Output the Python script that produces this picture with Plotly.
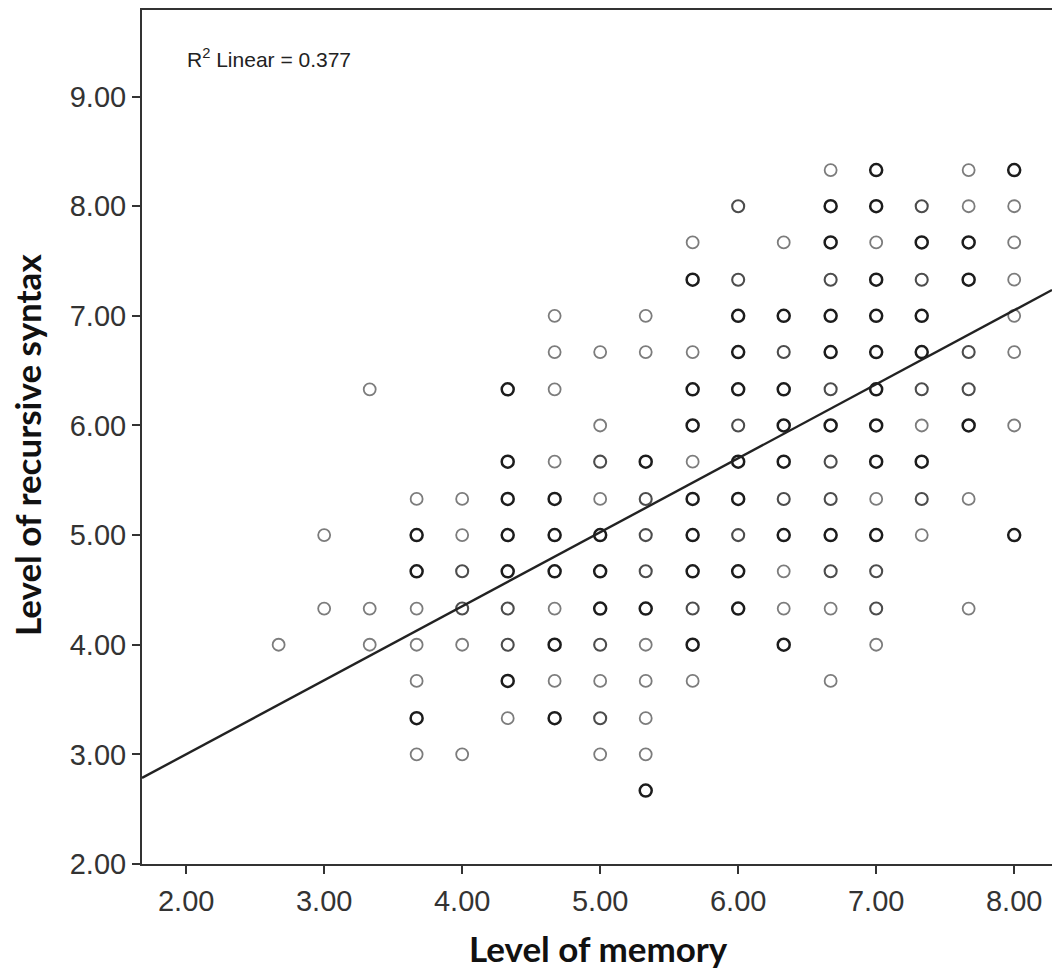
import plotly.graph_objects as go

# Each entry is one plotted position; `cases` is how many respondents share it
memory = [
    2.67,
    3.00, 3.00,
    3.33, 3.33, 3.33,
    3.67, 3.67, 3.67, 3.67, 3.67, 3.67, 3.67, 3.67,
    4.00, 4.00, 4.00, 4.00, 4.00, 4.00,
    4.33, 4.33, 4.33, 4.33, 4.33, 4.33, 4.33, 4.33, 4.33,
    4.67, 4.67, 4.67, 4.67, 4.67, 4.67, 4.67, 4.67, 4.67, 4.67, 4.67,
    5.00, 5.00, 5.00, 5.00, 5.00, 5.00, 5.00, 5.00, 5.00, 5.00, 5.00,
    5.33, 5.33, 5.33, 5.33, 5.33, 5.33, 5.33, 5.33, 5.33, 5.33, 5.33, 5.33,
    5.67, 5.67, 5.67, 5.67, 5.67, 5.67, 5.67, 5.67, 5.67, 5.67, 5.67, 5.67,
    6.00, 6.00, 6.00, 6.00, 6.00, 6.00, 6.00, 6.00, 6.00, 6.00, 6.00,
    6.33, 6.33, 6.33, 6.33, 6.33, 6.33, 6.33, 6.33, 6.33, 6.33, 6.33,
    6.67, 6.67, 6.67, 6.67, 6.67, 6.67, 6.67, 6.67, 6.67, 6.67, 6.67, 6.67, 6.67, 6.67,
    7.00, 7.00, 7.00, 7.00, 7.00, 7.00, 7.00, 7.00, 7.00, 7.00, 7.00, 7.00, 7.00, 7.00,
    7.33, 7.33, 7.33, 7.33, 7.33, 7.33, 7.33, 7.33, 7.33, 7.33,
    7.67, 7.67, 7.67, 7.67, 7.67, 7.67, 7.67, 7.67, 7.67,
    8.00, 8.00, 8.00, 8.00, 8.00, 8.00, 8.00, 8.00,
]
syntax = [
    4.00,
    5.00, 4.33,
    6.33, 4.33, 4.00,
    5.33, 5.00, 4.67, 4.33, 4.00, 3.67, 3.33, 3.00,
    5.33, 5.00, 4.67, 4.33, 4.00, 3.00,
    6.33, 5.67, 5.33, 5.00, 4.67, 4.33, 4.00, 3.67, 3.33,
    7.00, 6.67, 6.33, 5.67, 5.33, 5.00, 4.67, 4.33, 4.00, 3.67, 3.33,
    6.67, 6.00, 5.67, 5.33, 5.00, 4.67, 4.33, 4.00, 3.67, 3.33, 3.00,
    7.00, 6.67, 5.67, 5.33, 5.00, 4.67, 4.33, 4.00, 3.67, 3.33, 3.00, 2.67,
    7.67, 7.33, 6.67, 6.33, 6.00, 5.67, 5.33, 5.00, 4.67, 4.33, 4.00, 3.67,
    8.00, 7.33, 7.00, 6.67, 6.33, 6.00, 5.67, 5.33, 5.00, 4.67, 4.33,
    7.67, 7.00, 6.67, 6.33, 6.00, 5.67, 5.33, 5.00, 4.67, 4.33, 4.00,
    8.33, 8.00, 7.67, 7.33, 7.00, 6.67, 6.33, 6.00, 5.67, 5.33, 5.00, 4.67, 4.33, 3.67,
    8.33, 8.00, 7.67, 7.33, 7.00, 6.67, 6.33, 6.00, 5.67, 5.33, 5.00, 4.67, 4.33, 4.00,
    8.00, 7.67, 7.33, 7.00, 6.67, 6.33, 6.00, 5.67, 5.33, 5.00,
    8.33, 8.00, 7.67, 7.33, 6.67, 6.33, 6.00, 5.33, 4.33,
    8.33, 8.00, 7.67, 7.33, 7.00, 6.67, 6.00, 5.00,
]
cases = [
    1,
    1, 1,
    1, 1, 1,
    1, 3, 3, 1, 1, 1, 3, 1,
    1, 1, 2, 2, 1, 1,
    3, 3, 3, 3, 3, 2, 2, 3, 1,
    1, 1, 1, 1, 3, 3, 3, 1, 3, 1, 3,
    1, 1, 2, 1, 3, 3, 3, 2, 1, 2, 1,
    1, 1, 3, 2, 2, 2, 3, 1, 1, 1, 1, 3,
    1, 3, 1, 3, 3, 1, 3, 3, 3, 2, 3, 1,
    2, 2, 3, 3, 3, 2, 3, 3, 2, 3, 3,
    1, 3, 2, 3, 3, 3, 2, 3, 1, 1, 3,
    1, 3, 3, 2, 3, 3, 2, 3, 2, 2, 3, 2, 1, 1,
    3, 3, 1, 3, 3, 3, 3, 3, 3, 1, 3, 2, 2, 1,
    2, 3, 2, 3, 3, 2, 1, 3, 2, 1,
    1, 1, 3, 3, 2, 2, 3, 1, 1,
    3, 1, 1, 1, 1, 1, 1, 3,
]

# Fitted linear regression of syntax on memory
fit_intercept = 1.651
fit_slope = 0.675
r_squared = 0.377

x_range = [1.68, 8.274]
y_range = [2.0, 9.79]
tick_vals = [2, 3, 4, 5, 6, 7, 8, 9]

shade = {1: "#7c7c7c", 2: "#4c4c4c", 3: "#1c1c1c"}
stroke = {1: 1.8, 2: 2.1, 3: 2.5}

fig = go.Figure()
fig.add_trace(go.Scatter(
    x=memory, y=syntax, mode="markers",
    marker=dict(symbol="circle-open", size=12,
                color=[shade[c] for c in cases],
                line=dict(width=[stroke[c] for c in cases])),
    hoverinfo="x+y", showlegend=False,
))
fig.add_trace(go.Scatter(
    x=x_range,
    y=[fit_intercept + fit_slope * v for v in x_range],
    mode="lines", line=dict(color="#222222", width=2.4),
    hoverinfo="skip", showlegend=False,
))

tick_font = dict(family="Liberation Sans, Arial, sans-serif", size=29, color="#333333")
axis_common = dict(
    showgrid=False, zeroline=False, showline=True, linecolor="#333333", linewidth=2,
    ticks="outside", ticklen=8, tickwidth=1.5, tickcolor="#333333",
    tickvals=tick_vals, ticktext=[f"{v:.2f}" for v in tick_vals], tickfont=tick_font,
)

title_font = dict(family="Lato, sans-serif", size=35, color="#111111")

fig.update_layout(
    width=1052, height=973,
    margin=dict(l=142, r=0, t=10, b=109),
    paper_bgcolor="white", plot_bgcolor="white",
    xaxis=dict(range=x_range, mirror=True, ticklabelstandoff=2, **axis_common),
    yaxis=dict(range=y_range, **axis_common),
    annotations=[
        dict(text=f"R<sup>2</sup> Linear = {r_squared}", xref="paper", yref="paper",
             x=(185 - 142) / 910, y=(864 - 58) / 854, xanchor="left", yanchor="middle",
             showarrow=False,
             font=dict(family="Liberation Sans, Arial, sans-serif", size=21, color="#222222")),
        dict(text="<b>Level of memory</b>", xref="paper", yref="paper",
             x=(598 - 142) / 910, y=-(948 - 864) / 854, xanchor="center", yanchor="middle",
             showarrow=False, font=title_font),
        dict(text="<b>Level of recursive syntax</b>", xref="paper", yref="paper",
             x=-(142 - 27) / 910, y=(864 - 445) / 854, xanchor="center", yanchor="middle",
             textangle=-90, showarrow=False, font=title_font),
    ],
)

fig.write_html("out.html")
